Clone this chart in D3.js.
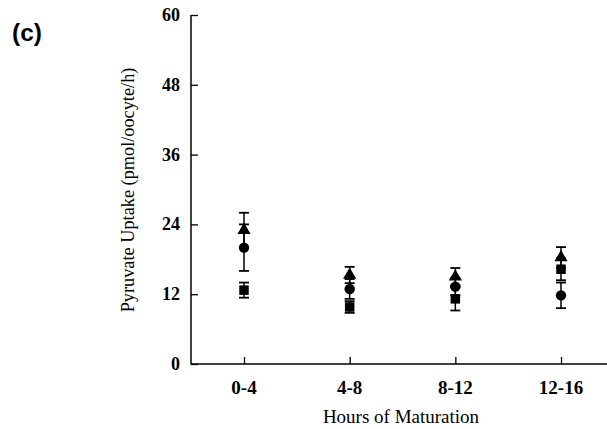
<!DOCTYPE html>
<html><head><meta charset="utf-8">
<script src="https://cdn.jsdelivr.net/npm/d3@7"></script>
<style>body{margin:0;background:#fff}svg{display:block}</style>
</head><body>
<svg id="c" width="607" height="429"></svg>
<script>
const categories = ["0-4","4-8","8-12","12-16"];
const yTicks = [0,12,24,36,48,60];
const triangleMean = [23, 15.3, 15.0, 18.3];
const triangleErr  = [3.0, 1.4, 1.5, 1.8];
const circleMean   = [20, 12.9, 13.3, 11.8];
const circleErr    = [4.0, 1.7, 1.5, 2.2];
const squareMean   = [12.7, 9.8, 11.2, 16.3];
const squareErr    = [1.3, 1.0, 2.0, 1.9];

const series = [
  {name:"triangle", mean:triangleMean, err:triangleErr, sym:d3.symbolTriangle, size:75},
  {name:"circle", mean:circleMean, err:circleErr, sym:d3.symbolCircle, size:85},
  {name:"square", mean:squareMean, err:squareErr, sym:d3.symbolSquare, size:90}
];

const svg = d3.select("#c");
const x = d3.scalePoint().domain(categories).range([244, 561]);
const y = d3.scaleLinear().domain([0,60]).range([364, 15]);
const x0 = 191, xEnd = 607;

// axes
const g = svg.append("g");
g.append("line").attr("x1",x0).attr("x2",x0).attr("y1",y(60)).attr("y2",y(0)+0.5)
  .attr("stroke","#000").attr("stroke-width",1.5);
g.append("line").attr("x1",x0).attr("x2",xEnd).attr("y1",y(0)).attr("y2",y(0))
  .attr("stroke","#000").attr("stroke-width",1.5);

const yAxis = d3.axisRight(y).tickValues(yTicks).tickSize(7).tickFormat("");
svg.append("g").attr("transform",`translate(${x0},0)`).call(yAxis)
  .call(s=>s.select(".domain").remove())
  .call(s=>s.selectAll("line").attr("stroke-width",1.3));
svg.append("g").selectAll("text").data(yTicks).join("text")
  .attr("x",180).attr("y",d=>y(d)+6).attr("text-anchor","end")
  .attr("font-family","Liberation Serif").attr("font-weight","bold").attr("font-size",18)
  .text(d=>d);

const xAxis = d3.axisTop(x).tickSize(7).tickFormat("");
svg.append("g").attr("transform",`translate(0,${y(0)})`).call(xAxis)
  .call(s=>s.select(".domain").remove())
  .call(s=>s.selectAll("line").attr("stroke-width",1.3));
svg.append("g").selectAll("text").data(categories).join("text")
  .attr("x",d=>x(d)).attr("y",394).attr("text-anchor","middle")
  .attr("font-family","Liberation Serif").attr("font-weight","bold").attr("font-size",19)
  .text(d=>d);

svg.append("text").attr("x",401).attr("y",423).attr("text-anchor","middle")
  .attr("font-family","Liberation Serif").attr("font-size",19).text("Hours of Maturation");
svg.append("text").attr("transform","translate(134,190) rotate(-90)").attr("text-anchor","middle")
  .attr("font-family","Liberation Serif").attr("font-size",18.3).text("Pyruvate Uptake (pmol/oocyte/h)");
svg.append("text").attr("x",12).attr("y",41)
  .attr("font-family","Liberation Sans").attr("font-weight","bold").attr("font-size",24.5).text("(c)");

// error bars
const cap = 5;
series.forEach(s=>{
  const eg = svg.append("g");
  categories.forEach((c,i)=>{
    const cx = x(c), hi = y(s.mean[i]+s.err[i]), lo = y(s.mean[i]-s.err[i]);
    eg.append("line").attr("x1",cx).attr("x2",cx).attr("y1",hi).attr("y2",lo).attr("stroke","#000").attr("stroke-width",1.5);
    eg.append("line").attr("x1",cx-cap).attr("x2",cx+cap).attr("y1",hi).attr("y2",hi).attr("stroke","#000").attr("stroke-width",1.8);
    eg.append("line").attr("x1",cx-cap).attr("x2",cx+cap).attr("y1",lo).attr("y2",lo).attr("stroke","#000").attr("stroke-width",1.8);
  });
});
// markers
series.forEach(s=>{
  svg.append("g").selectAll("path").data(categories).join("path")
    .attr("transform",(c,i)=>`translate(${x(c)},${y(s.mean[i])})`)
    .attr("d",d3.symbol().type(s.sym).size(s.size)).attr("fill","#000");
});
</script>
</body></html>
